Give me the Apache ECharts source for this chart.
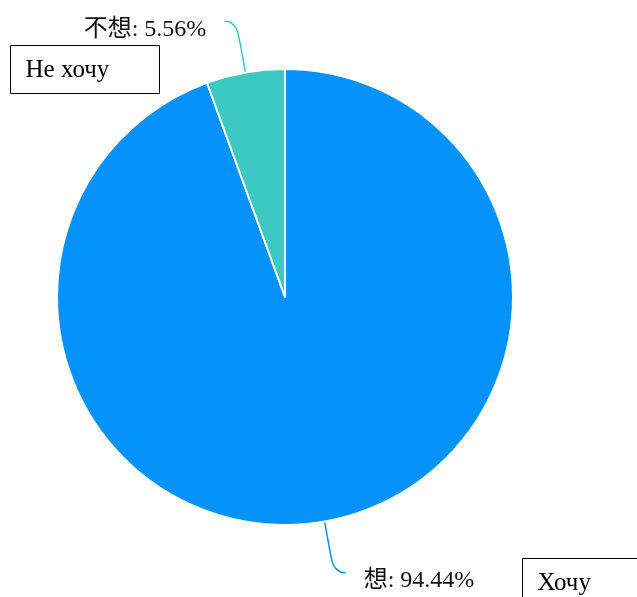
<!DOCTYPE html>
<html>
<head>
<meta charset="utf-8">
<script src="https://cdn.jsdelivr.net/npm/echarts@6/dist/echarts.min.js"></script>
<style>
html,body{margin:0;padding:0;background:#fff;}
#main{width:637px;height:597px;}
</style>
</head>
<body>
<div id="main"></div>
<script>
var categories = ['想', '不想'];
var values = [94.44, 5.56];
var sliceColors = ['#0593fb', '#3cc9c4'];
var boxTexts = ['Не хочу', 'Хочу'];

var chart = echarts.init(document.getElementById('main'));
var fontFam = '"Liberation Serif", "Times New Roman", "Noto Sans CJK SC", serif';
chart.setOption({
  animation: false,
  backgroundColor: '#fff',
  series: [{
    type: 'pie',
    center: [285, 297],
    radius: [0, 228],
    startAngle: 90,
    clockwise: true,
    avoidLabelOverlap: false,
    data: categories.map(function (c, i) {
      return { name: c, value: values[i], itemStyle: { color: sliceColors[i] } };
    }),
    itemStyle: { borderColor: '#fff', borderWidth: 2 },
    label: {
      show: true,
      formatter: function (p) { return '{gap|}\n{t|' + p.name + ': ' + p.value.toFixed(2) + '%}'; },
      fontFamily: fontFam,
      fontSize: 24,
      color: '#111',
      distanceToLabelLine: 18,
      rich: {
        gap: { height: 16, lineHeight: 16, fontSize: 1 },
        t: { fontFamily: fontFam, fontSize: 24, color: '#111', lineHeight: 28 }
      }
    },
    labelLine: {
      show: true,
      length: 52,
      length2: 12,
      smooth: 0.6,
      lineStyle: { width: 1.5 }
    }
  }],
  graphic: [
    {
      type: 'group', left: 10, top: 45,
      children: [
        { type: 'rect', shape: { x: 0, y: 0, width: 149, height: 48 }, style: { fill: '#fff', stroke: '#000', lineWidth: 1 } },
        { type: 'text', x: 15, y: 25, style: { text: boxTexts[0], font: '25px ' + fontFam, fill: '#000', verticalAlign: 'middle' } }
      ]
    },
    {
      type: 'group', left: 522, top: 558,
      children: [
        { type: 'rect', shape: { x: 0, y: 0, width: 130, height: 48 }, style: { fill: '#fff', stroke: '#000', lineWidth: 1 } },
        { type: 'text', x: 15, y: 25, style: { text: boxTexts[1], font: '25px ' + fontFam, fill: '#000', verticalAlign: 'middle' } }
      ]
    }
  ]
});
</script>
</body>
</html>
